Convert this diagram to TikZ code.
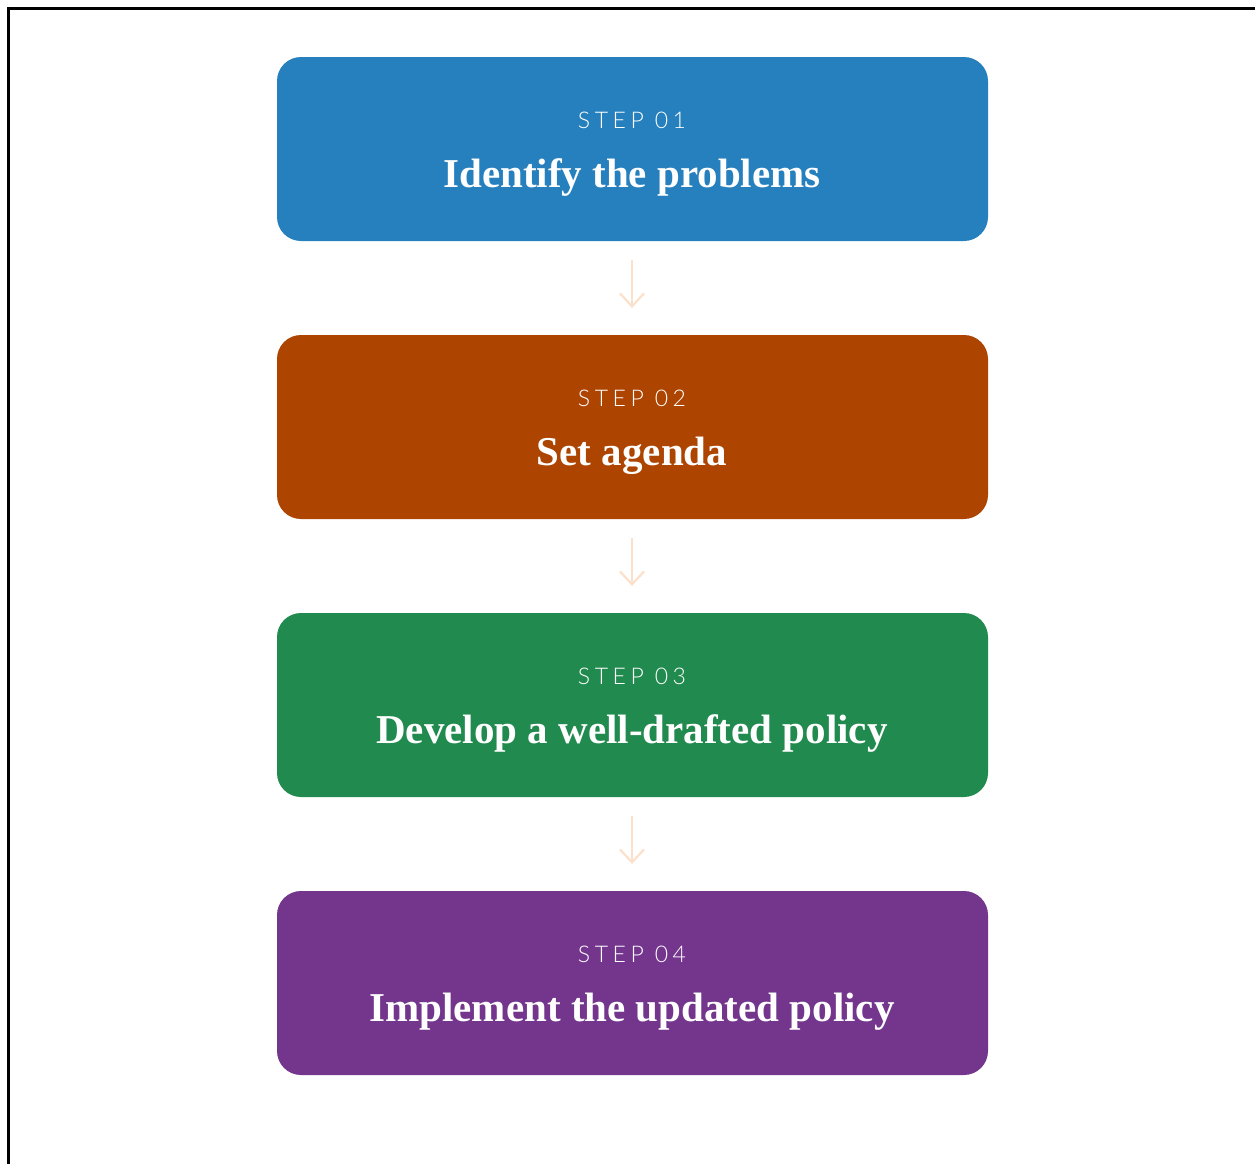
\documentclass[tikz,border=0pt]{standalone}
\usepackage{fontspec}
\setmainfont{Liberation Serif}
\newfontfamily\stepfont[LetterSpace=20]{Lato Light}
\usetikzlibrary{arrows.meta}
\definecolor{cblue}{HTML}{2680BD}
\definecolor{corange}{HTML}{AD4400}
\definecolor{cgreen}{HTML}{218B4F}
\definecolor{cpurple}{HTML}{74368D}
\definecolor{carrow}{HTML}{FBE1CB}
\tikzset{
  stepbox/.style={rounded corners=24pt, minimum width=711pt, minimum height=184pt, inner sep=0pt},
  steplabel/.style={text=white, font=\stepfont\fontsize{23}{27}\selectfont, anchor=base},
  titlelabel/.style={text=white, font=\bfseries\fontsize{41}{47}\selectfont, anchor=base},
  flow/.style={draw=carrow, line width=2.2pt, -{Straight Barb[length=13pt,width=24pt,line width=2.2pt]}}
}
\begin{document}
\begin{tikzpicture}[x=1pt,y=-1pt]
\useasboundingbox (0,0) rectangle (1255,1163);
\fill[white] (0,0) rectangle (1255,1163);
\draw[line width=3pt] (8.5,1170) -- (8.5,8.5) -- (1260,8.5);
\foreach \n/\c/\y/\t in {1/cblue/149/Identify the problems, 2/corange/427/Set agenda, 3/cgreen/705/Develop a well-drafted policy, 4/cpurple/983/Implement the updated policy}{
  \node[stepbox, fill=\c] (b\n) at (632.5,\y) {};
  \node[steplabel] (s\n) at (632,\y-21) {STEP 0\n};
  \node[titlelabel] (t\n) at (632,\y+38) {\t};
}
\coordinate (a1s) at (632,260); \coordinate (a1e) at (632,308);
\coordinate (a2s) at (632,538); \coordinate (a2e) at (632,586);
\coordinate (a3s) at (632,816); \coordinate (a3e) at (632,864);
\draw[flow] (a1s) -- (a1e);
\draw[flow] (a2s) -- (a2e);
\draw[flow] (a3s) -- (a3e);
\end{tikzpicture}
\end{document}
